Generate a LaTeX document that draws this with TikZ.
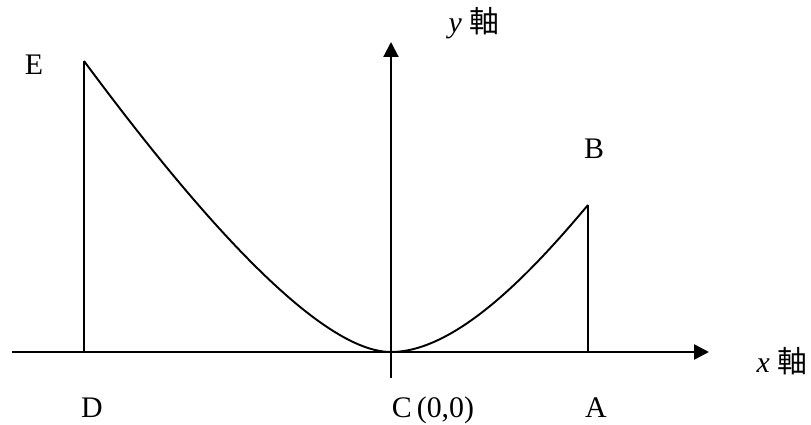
\documentclass[tikz,border=0pt]{standalone}
\usepackage{fontspec}
\setmainfont{Liberation Serif}
\newfontfamily\cjk{Noto Sans CJK JP}
\usetikzlibrary{arrows.meta}
\tikzset{
  axis/.style={draw=black,line width=1.5pt,-{Triangle[length=0.3cm,width=0.3cm]}},
  drop/.style={draw=black,line width=1pt},
  curve/.style={draw=black,line width=1.1pt},
  lbl/.style={anchor=base,inner sep=0pt,font=\fontsize{17}{20}\selectfont},
}

\begin{document}
\begin{tikzpicture}[x=0.02cm,y=0.02cm]
\useasboundingbox (-391,-73) rectangle (420,352);
\coordinate (C) at (0,0);
\coordinate (E) at (-307,291);
\coordinate (D) at (-307,0);
\coordinate (B) at (197,147);
\coordinate (A) at (197,0);
\coordinate (xl) at (-379,0);
\coordinate (xr) at (318,0);
\coordinate (yb) at (0,-26);
\coordinate (yt) at (0,310);
% axes
\draw[axis] (xl) -- (xr);
\draw[axis,line width=1.2pt] (yb) -- (yt);
\draw[drop] (D) -- (E);
\draw[drop] (A) -- (B);
\draw[curve] (E) .. controls (-221,175) and (-81,0) .. (C) .. controls (69,0) and (149,90) .. (B);
% labels
\node[lbl] (lE) at (-357,277) {E};
\node[lbl] (lB) at (203,193) {B};
\node[lbl] (lD) at (-299,-66) {D};
\node[lbl] (lC) at (42,-66) {C\,(0,0)};
\node[lbl] (lA) at (205,-66) {A};
\node[lbl] (ly) at (83,319) {\textit{y} {\cjk 軸}};
\node[lbl] (lx) at (391,-21) {\textit{x} {\cjk 軸}};
\end{tikzpicture}
\end{document}
